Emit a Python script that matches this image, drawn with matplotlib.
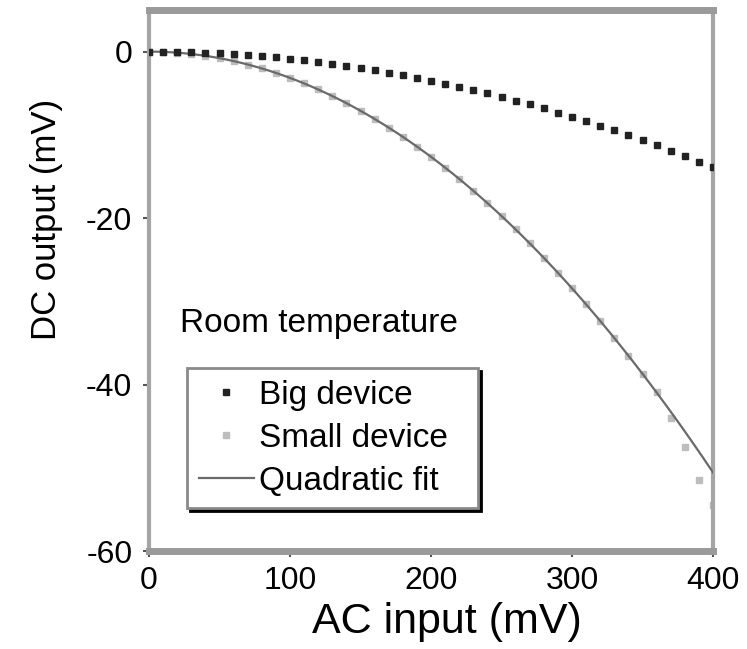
import matplotlib
matplotlib.use("Agg")
import matplotlib.pyplot as plt
import numpy as np

plt.rcParams['font.family'] = ['Liberation Sans', 'DejaVu Sans']

# AC input (mV)
ac_input = [0, 10, 20, 30, 40, 50, 60, 70, 80, 90, 100, 110, 120, 130, 140, 150,
            160, 170, 180, 190, 200, 210, 220, 230, 240, 250, 260, 270, 280, 290,
            300, 310, 320, 330, 340, 350, 360, 370, 380, 390, 400]

# DC output (mV) - big device
big_device = [0.0, 0.0, -0.03, -0.08, -0.14, -0.22, -0.31, -0.43, -0.56, -0.70,
              -0.87, -1.05, -1.25, -1.47, -1.71, -1.96, -2.23, -2.51, -2.82, -3.14,
              -3.48, -3.84, -4.21, -4.60, -5.01, -5.44, -5.88, -6.34, -6.82, -7.32,
              -7.83, -8.36, -8.91, -9.47, -10.06, -10.66, -11.27, -11.91, -12.56,
              -13.23, -13.92]

# DC output (mV) - small device
small_device = [0.0, -0.03, -0.13, -0.28, -0.51, -0.79, -1.14, -1.55, -2.02, -2.56,
                -3.16, -3.82, -4.55, -5.34, -6.19, -7.11, -8.09, -9.13, -10.24, -11.41,
                -12.64, -13.94, -15.29, -16.72, -18.20, -19.75, -21.36, -23.04, -24.77,
                -26.58, -28.44, -30.37, -32.36, -34.41, -36.53, -38.71, -40.95, -44.0,
                -47.5, -51.5, -54.5]

# Quadratic fit coefficient: DC = a * AC^2
fit_a = -3.16e-4
fit_x = np.linspace(0, 400, 200)
fit_y = fit_a * fit_x ** 2

x_ticks = [0, 100, 200, 300, 400]
y_ticks = [0, -20, -40, -60]

fig = plt.figure(figsize=(7.47, 6.49), dpi=100)
ax = fig.add_axes([0.1995, 0.151, 0.755, 0.8336])

ax.plot(ac_input, small_device, linestyle='none', marker='s', ms=5,
        mfc='#bdbdbd', mec='#bdbdbd', label='Small device', zorder=2)
ax.plot(fit_x, fit_y, color='#6a6a6a', lw=1.6, label='Quadratic fit', zorder=3)
ax.plot(ac_input, big_device, linestyle='none', marker='s', ms=4,
        mfc='#222222', mec='#222222', label='Big device', zorder=4)

ax.set_xlim(0, 400)
ax.set_ylim(-60, 5)
ax.set_xticks(x_ticks)
ax.set_yticks(y_ticks)
ax.set_xticklabels([str(v) for v in x_ticks])
ax.set_yticklabels([str(v) for v in y_ticks])
ax.tick_params(axis='both', labelsize=23, direction='out', length=4, width=1.5,
               color='#555555')
ax.tick_params(axis='y', pad=8)
ax.tick_params(axis='x', pad=7)

for side in ['top', 'bottom']:
    ax.spines[side].set_linewidth(5)
    ax.spines[side].set_color('#9a9a9a')
for side in ['left', 'right']:
    ax.spines[side].set_linewidth(3)
    ax.spines[side].set_color('#a5a5a5')

ax.set_xlabel('AC input (mV)', fontsize=31)
ax.set_ylabel('DC output (mV)', fontsize=25)
ax.xaxis.set_label_coords(0.528, -0.095)
ax.yaxis.set_label_coords(-0.152, 0.612)

ax.text(22, -32.7, 'Room temperature', fontsize=24, va='center', ha='left')

handles, labels = ax.get_legend_handles_labels()
order = [2, 0, 1]
leg_labels = [labels[i] for i in order]
leg_labels = [lab + '  ' if lab == 'Small device' else lab for lab in leg_labels]
leg = ax.legend([handles[i] for i in order], leg_labels,
                loc='upper left', bbox_to_anchor=(0.0674, 0.338), borderaxespad=0,
                fontsize=24, frameon=True, fancybox=False, handlelength=1.65,
                handletextpad=0.17, labelspacing=0.36, borderpad=0.35,
                shadow={'color': 'black', 'alpha': 1}, markerscale=1.0)
leg.get_frame().set_edgecolor('#8a8a8a')
leg.get_frame().set_linewidth(2)

fig.savefig('out.png', dpi=100)
